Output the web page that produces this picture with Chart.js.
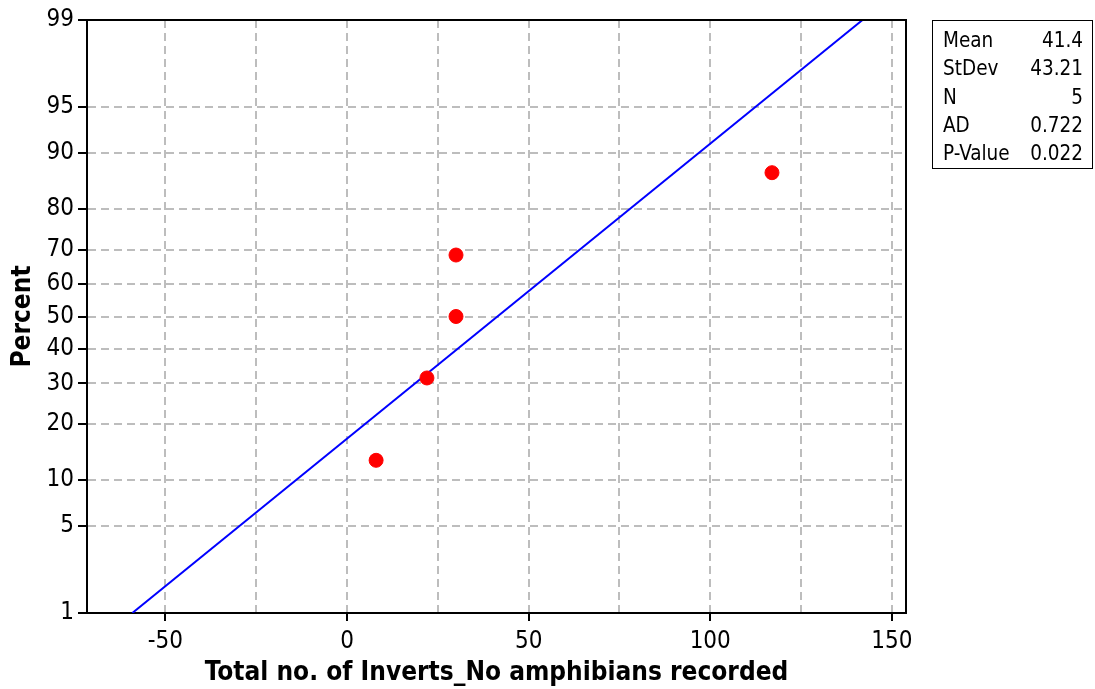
<!DOCTYPE html>
<html>
<head>
<meta charset="utf-8">
<script src="https://cdn.jsdelivr.net/npm/chart.js@4/dist/chart.umd.min.js"></script>
<style>
  html, body { margin: 0; padding: 0; background: #fff; }
  #wrap { position: relative; width: 1095px; height: 689px; }
  #stats {
    position: absolute; left: 932px; top: 20px; width: 140px; height: 137px;
    border: 1px solid #000; padding: 5px 9px 5px 10px;
    font-family: "DejaVu Sans Condensed", "DejaVu Sans", sans-serif; font-size: 20.5px; color: #000;
  }
  #stats div { display: flex; justify-content: space-between; line-height: 28.3px; }
</style>
</head>
<body>
<div id="wrap">
  <canvas id="chart" width="1095" height="689"></canvas>
  <div id="stats"></div>
</div>
<script>
// observed values and plotting positions (percent)
const values = [8, 22, 30, 30, 117];
const percents = [12.96, 31.48, 50, 68.52, 87.04];

// fitted normal line, from mean and stdev
const MEAN = 41.4;
const STDEV = 43.21;
const fitPercents = [1, 99];

const yTickPercents = [1, 5, 10, 20, 30, 40, 50, 60, 70, 80, 90, 95, 99];
const xTicks = [-50, -25, 0, 25, 50, 75, 100, 125, 150];

const statLabels = ['Mean', 'StDev', 'N', 'AD', 'P-Value'];
const statValues = ['41.4', '43.21', '5', '0.722', '0.022'];

const FONT = '"DejaVu Sans Condensed", "DejaVu Sans", sans-serif';

// inverse normal cdf (Acklam)
function probit(p) {
    const a = [-39.6968302866538, 220.946098424521, -275.928510446969, 138.357751867269, -30.6647980661472, 2.50662827745924];
    const b = [-54.4760987982241, 161.585836858041, -155.698979859887, 66.8013118877197, -13.2806815528857];
    const c = [-0.00778489400243029, -0.322396458041136, -2.40075827716184, -2.54973253934373, 4.37466414146497, 2.93816398269878];
    const d = [0.00778469570904146, 0.32246712907004, 2.445134137143, 3.75440866190742];
    const plow = 0.02425, phigh = 1 - plow;
    let q, r;
    if (p < plow) {
        q = Math.sqrt(-2 * Math.log(p));
        return (((((c[0] * q + c[1]) * q + c[2]) * q + c[3]) * q + c[4]) * q + c[5]) /
            ((((d[0] * q + d[1]) * q + d[2]) * q + d[3]) * q + 1);
    }
    if (p <= phigh) {
        q = p - 0.5; r = q * q;
        return (((((a[0] * r + a[1]) * r + a[2]) * r + a[3]) * r + a[4]) * r + a[5]) * q /
            (((((b[0] * r + b[1]) * r + b[2]) * r + b[3]) * r + b[4]) * r + 1);
    }
    q = Math.sqrt(-2 * Math.log(1 - p));
    return -(((((c[0] * q + c[1]) * q + c[2]) * q + c[3]) * q + c[4]) * q + c[5]) /
        ((((d[0] * q + d[1]) * q + d[2]) * q + d[3]) * q + 1);
}
const z = (pct) => probit(pct / 100);

document.getElementById('stats').innerHTML = statLabels
    .map((l, i) => `<div><span>${l}</span><span>${statValues[i]}</span></div>`).join('');

const pointData = values.map((v, i) => ({ x: v, y: z(percents[i]) }));
const fitData = fitPercents.map((p) => ({ x: MEAN + STDEV * z(p), y: z(p) }));

const frame = {
    id: 'frame',
    afterDraw(chart) {
        const { ctx, chartArea: a } = chart;
        ctx.save();
        ctx.strokeStyle = '#000';
        ctx.lineWidth = 2;
        ctx.beginPath();
        ctx.moveTo(a.left, a.top);
        ctx.lineTo(a.right, a.top);
        ctx.lineTo(a.right, a.bottom);
        ctx.stroke();
        ctx.restore();
    }
};

new Chart(document.getElementById('chart'), {
    type: 'scatter',
    data: {
        datasets: [{
            data: pointData,
            backgroundColor: '#ff0000',
            borderColor: '#ff0000',
            pointRadius: 7,
            order: 0
        }, {
            type: 'line',
            data: fitData,
            borderColor: '#0000ff',
            borderWidth: 2,
            pointRadius: 0,
            fill: false,
            order: 1
        }]
    },
    options: {
        responsive: false,
        animation: false,
        layout: { padding: { top: 20, right: 189, left: 0, bottom: 0 } },
        plugins: { legend: { display: false }, tooltip: { enabled: false } },
        scales: {
            x: {
                type: 'linear',
                min: -71.6,
                max: 153.9,
                afterBuildTicks(scale) { scale.ticks = xTicks.map((v) => ({ value: v })); },
                afterFit(scale) { scale.height = 76; },
                ticks: {
                    color: '#000',
                    font: { family: FONT, size: 24 },
                    padding: 6,
                    maxRotation: 0,
                    callback: (v) => (v % 50 === 0 ? String(v) : '')
                },
                grid: {
                    color: '#bdbdbd',
                    lineWidth: 2,
                    tickLength: 8,
                    tickWidth: 2,
                    tickColor: (ctx) => (ctx.tick && ctx.tick.value % 50 === 0 ? '#000' : 'rgba(0,0,0,0)')
                },
                border: { color: '#000', width: 2, dash: [8, 5] },
                title: {
                    display: true,
                    text: 'Total no. of Inverts_No amphibians recorded',
                    color: '#000',
                    font: { family: FONT, size: 26, weight: 'bold' },
                    padding: { top: 0, bottom: 0 }
                }
            },
            y: {
                type: 'linear',
                min: z(1),
                max: z(99),
                afterBuildTicks(scale) { scale.ticks = yTickPercents.map((p) => ({ value: z(p) })); },
                afterFit(scale) { scale.width = 87; },
                ticks: {
                    color: '#000',
                    font: { family: FONT, size: 24 },
                    padding: 4,
                    callback: (v, i) => String(yTickPercents[i])
                },
                grid: {
                    color: '#bdbdbd',
                    lineWidth: 2,
                    tickLength: 9,
                    tickWidth: 2,
                    tickColor: '#000'
                },
                border: { color: '#000', width: 2, dash: [8, 5] },
                title: {
                    display: true,
                    text: 'Percent',
                    color: '#000',
                    font: { family: FONT, size: 26, weight: 'bold' },
                    padding: { top: 8, bottom: 0 }
                }
            }
        }
    },
    plugins: [frame]
});
</script>
</body>
</html>
